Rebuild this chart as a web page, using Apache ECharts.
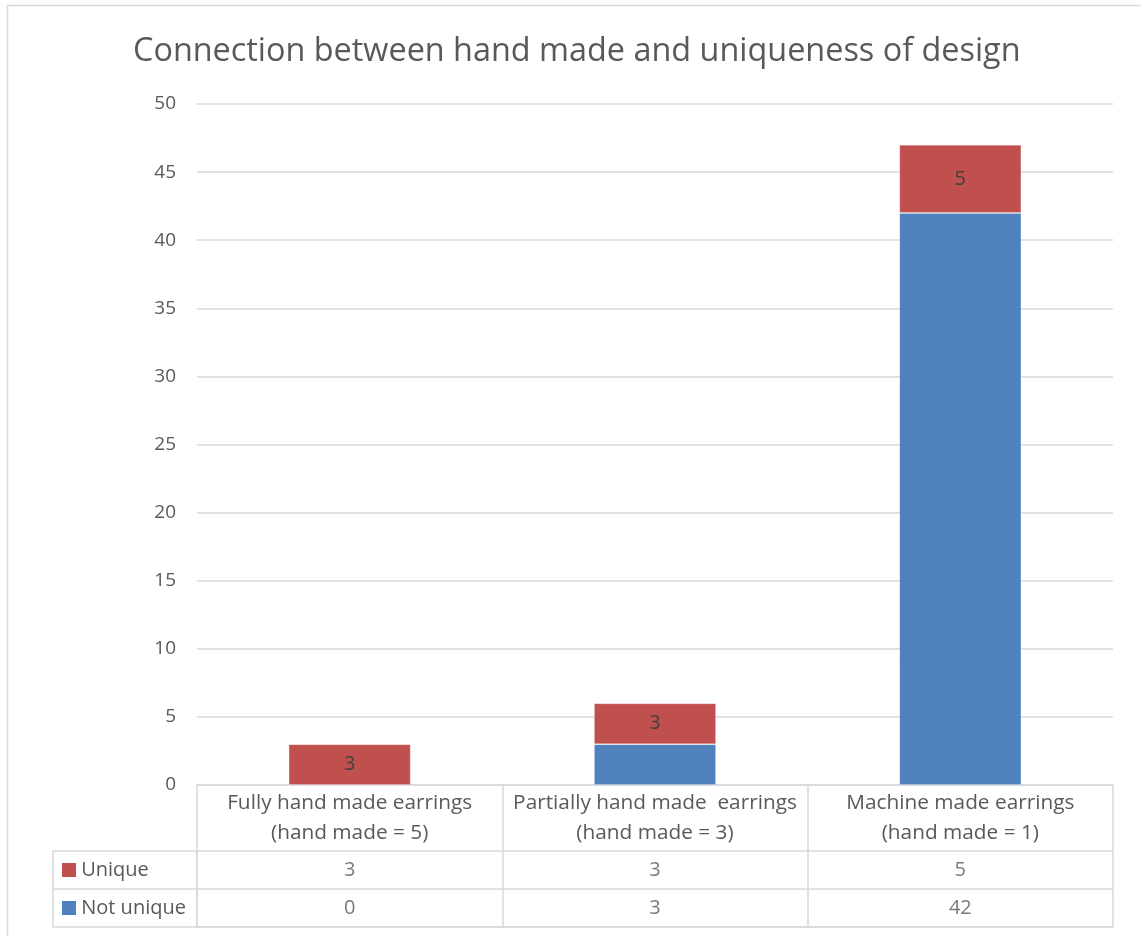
<!DOCTYPE html>
<html>
<head>
<meta charset="utf-8">
<script src="https://cdn.jsdelivr.net/npm/echarts@6/dist/echarts.min.js"></script>
<style>
html,body{margin:0;padding:0;background:#fff;}
#main{width:1141px;height:936px;}
</style>
</head>
<body>
<div id="main"></div>
<script>
const categories = ['Fully hand made earrings\n(hand made = 5)', 'Partially hand made  earrings\n(hand made = 3)', 'Machine made earrings\n(hand made = 1)'];
const seriesNames = ['Not unique', 'Unique'];
const notUnique = [0, 3, 42];
const unique = [3, 3, 5];
const yTicks = {min: 0, max: 50, interval: 5};
const titleText = 'Connection between hand made and uniqueness of design';

const colors = {'Not unique': '#4F81BD', 'Unique': '#C0504D'};
const FONT = 'Open Sans';
const TXT = '#595959';
const LINE = '#d9d9d9';

const tableData = [];
categories.forEach((c, i) => {
  tableData.push([i, 'Unique', unique[i]]);
  tableData.push([i, 'Not unique', notUnique[i]]);
});

const chart = echarts.init(document.getElementById('main'));
chart.setOption({
  animation: false,
  title: {
    text: titleText, left: 128, top: 31,
    textStyle: {fontFamily: FONT, fontSize: 32.4, fontWeight: 'normal', color: TXT}
  },
  graphic: [{
    type: 'rect', silent: true, z: -1,
    shape: {x: 7.5, y: 5.5, width: 1300, height: 1100},
    style: {fill: 'none', stroke: LINE, lineWidth: 1.5}
  }],
  grid: [
    {left: 197, right: 28, top: 104, bottom: 151},
    {left: 197, right: 28, top: 851, bottom: 9}
  ],
  xAxis: [
    {
      type: 'category', gridIndex: 0, data: categories,
      axisLine: {lineStyle: {color: LINE, width: 1.5}},
      axisTick: {show: true, length: 66, lineStyle: {color: LINE, width: 1.5}},
      axisLabel: {fontFamily: FONT, fontSize: 20.8, color: TXT, margin: 3, lineHeight: 30, interval: 0}
    },
    {
      type: 'category', gridIndex: 1, data: categories,
      axisLine: {show: true, lineStyle: {color: LINE, width: 1.5}},
      axisTick: {show: false},
      axisLabel: {show: false},
      splitLine: {show: true, interval: 0, lineStyle: {color: LINE, width: 1.5}}
    }
  ],
  yAxis: [
    {
      type: 'value', gridIndex: 0, min: yTicks.min, max: yTicks.max, interval: yTicks.interval,
      axisLine: {show: false}, axisTick: {show: false},
      axisLabel: {fontFamily: FONT, fontSize: 19, color: TXT, margin: 21},
      splitLine: {lineStyle: {color: LINE, width: 1.5}}
    },
    {
      type: 'category', gridIndex: 1, data: seriesNames,
      axisLine: {show: true, lineStyle: {color: LINE, width: 1.5}},
      axisTick: {show: true, length: 144, lineStyle: {color: LINE, width: 1.5}},
      splitLine: {show: true, lineStyle: {color: LINE, width: 1.5}},
      axisLabel: {
        align: 'left', margin: 135,
        formatter: v => (v === 'Unique' ? '{u|}' : '{n|}') + '{t| ' + v + '}',
        rich: {
          u: {width: 14, height: 14, backgroundColor: colors['Unique']},
          n: {width: 14, height: 14, backgroundColor: colors['Not unique']},
          t: {fontFamily: FONT, fontSize: 20, color: TXT}
        }
      }
    },
    {
      type: 'category', gridIndex: 1, data: seriesNames, position: 'left', offset: 144,
      axisLine: {show: true, lineStyle: {color: LINE, width: 1.5}},
      axisTick: {show: false}, axisLabel: {show: false}, splitLine: {show: false}
    }
  ],
  series: [
    {
      name: 'Not unique', type: 'bar', stack: 'total', xAxisIndex: 0, yAxisIndex: 0,
      data: notUnique, barWidth: '40%',
      itemStyle: {color: colors['Not unique'], borderColor: 'rgba(255,255,255,0.2)', borderWidth: 1}
    },
    {
      name: 'Unique', type: 'bar', stack: 'total', xAxisIndex: 0, yAxisIndex: 0,
      data: unique, barWidth: '40%',
      itemStyle: {color: colors['Unique'], borderColor: 'rgba(255,255,255,0.2)', borderWidth: 1},
      label: {show: true, position: 'inside', fontFamily: FONT, fontSize: 20, color: '#404040'}
    },
    {
      name: 'table', type: 'scatter', xAxisIndex: 1, yAxisIndex: 1,
      symbolSize: 0, data: tableData,
      label: {show: true, position: 'inside', formatter: p => String(p.value[2]),
        fontFamily: FONT, fontSize: 20, color: TXT},
      silent: true
    }
  ]
});
</script>
</body>
</html>
